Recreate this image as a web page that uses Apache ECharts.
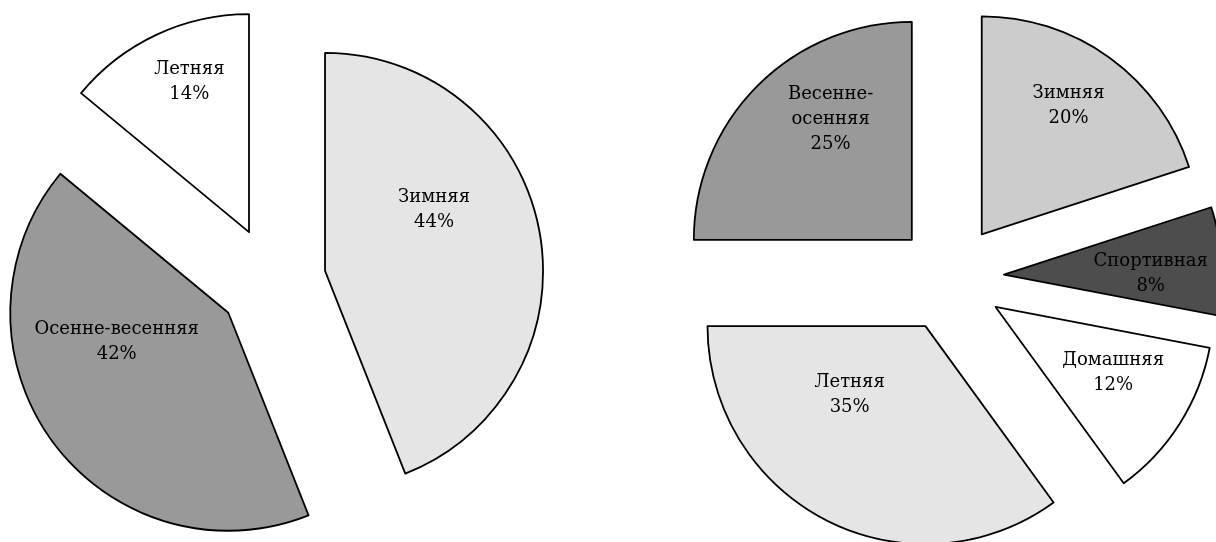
<!DOCTYPE html>
<html>
<head>
<meta charset="utf-8">
<script src="https://cdn.jsdelivr.net/npm/echarts@6/dist/echarts.min.js"></script>
<style>
html,body{margin:0;padding:0;background:#fff;}
#chart{width:1216px;height:542px;}
</style>
</head>
<body>
<div id="chart"></div>
<script>
// Left pie
const leftCategories = ['Зимняя', 'Осенне-весенняя', 'Летняя'];
const leftValues = [44, 42, 14];
// Right pie
const rightCategories = ['Зимняя', 'Спортивная', 'Домашняя', 'Летняя', 'Весенне-\nосенняя'];
const rightValues = [20, 8, 12, 35, 25];

const leftColors = ['#e5e5e5', '#999999', '#ffffff'];
const rightColors = ['#cccccc', '#4d4d4d', '#ffffff', '#e5e5e5', '#999999'];
// label nudges relative to the default inside position
const leftNudge = [[-1, -40], [-21, -37], [-12, -49]];
const rightNudge = [[21, -38], [35, 6], [23, 6], [-25, -31], [-2, -41]];

function buildData(cats, vals, colors) {
  return cats.map((c, i) => ({
    name: c,
    value: vals[i],
    selected: true,
    itemStyle: { color: colors[i] }
  }));
}

function pieSeries(cats, vals, colors, nudges, center, radius) {
  return {
    type: 'pie',
    center: center,
    radius: radius,
    startAngle: 90,
    clockwise: true,
    selectedMode: 'multiple',
    selectedOffset: 54,
    avoidLabelOverlap: false,
    silent: true,
    animation: false,
    itemStyle: { borderColor: '#000', borderWidth: 1.8 },
    select: { itemStyle: { borderColor: '#000', borderWidth: 1.8 } },
    emphasis: { disabled: true, scale: false },
    label: {
      show: true,
      position: 'inside',
      formatter: '{b}\n{c}%',
      color: '#000',
      fontFamily: 'DejaVu Serif',
      fontSize: 18,
      lineHeight: 25,
      align: 'center'
    },
    labelLine: { show: false },
    labelLayout: function (p) {
      const n = nudges[p.dataIndex];
      return { dx: n[0], dy: n[1] };
    },
    data: buildData(cats, vals, colors)
  };
}

const chart = echarts.init(document.getElementById('chart'), null, { renderer: 'canvas' });
chart.setOption({
  backgroundColor: '#ffffff',
  animation: false,
  series: [
    pieSeries(leftCategories, leftValues, leftColors, leftNudge, [272, 281], 218),
    pieSeries(rightCategories, rightValues, rightColors, rightNudge, [950, 278], 218)
  ]
});
</script>
</body>
</html>
